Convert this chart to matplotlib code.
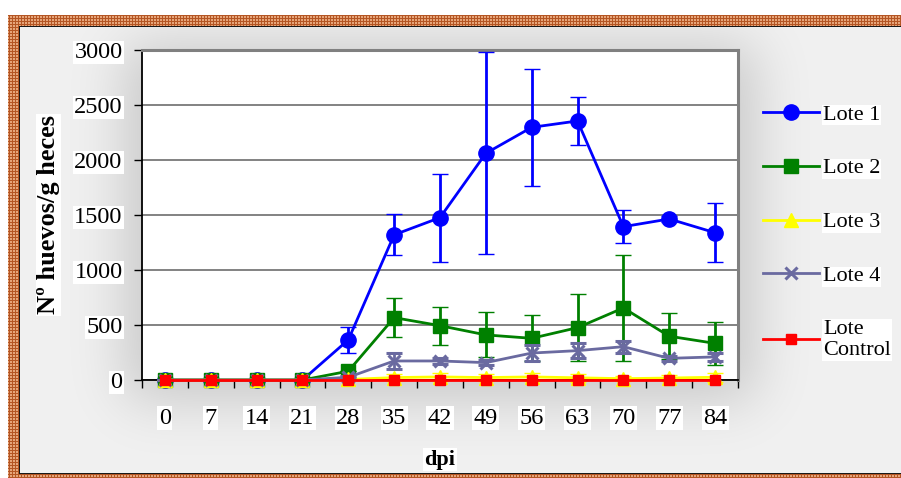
import numpy as np
import matplotlib
matplotlib.use("Agg")
import matplotlib.pyplot as plt

# ---- data -------------------------------------------------------------
dpi_days = ["0", "7", "14", "21", "28", "35", "42", "49", "56", "63", "70", "77", "84"]

lote1 = [0, 0, 0, 0, 365, 1320, 1476, 2061, 2297, 2355, 1394, 1464, 1339]
lote1_err = [0, 0, 0, 0, 120, 185, 400, 920, 533, 215, 150, 25, 268]

lote2 = [0, 0, 0, 0, 80, 567, 494, 410, 379, 476, 655, 398, 333]
lote2_err = [0, 0, 0, 0, 0, 175, 172, 205, 210, 305, 480, 210, 198]

lote3 = [0, 0, 0, 0, 5, 22, 28, 22, 28, 20, 12, 18, 25]
lote3_err = [0, 0, 0, 0, 5, 35, 35, 30, 40, 35, 25, 30, 40]

lote4 = [0, 0, 0, 0, 25, 173, 173, 158, 245, 267, 303, 197, 210]
lote4_err = [0, 0, 0, 0, 10, 70, 30, 20, 70, 65, 55, 25, 40]

lote_ctrl = [0, 0, 0, 0, 0, 0, 0, 0, 0, 0, 0, 0, 0]

series_names = ["Lote 1", "Lote 2", "Lote 3", "Lote 4", "Lote\nControl"]
y_ticks = [0, 500, 1000, 1500, 2000, 2500, 3000]

# ---- figure -----------------------------------------------------------
W, H, DPI = 901, 478, 100
fig = plt.figure(figsize=(W / DPI, H / DPI), dpi=DPI)
serif = ["Liberation Serif", "DejaVu Serif"]
plt.rcParams["font.family"] = serif


def gauss_blur(a, sigma):
    r = int(3 * sigma)
    k = np.exp(-0.5 * (np.arange(-r, r + 1) / sigma) ** 2)
    k /= k.sum()
    a = np.apply_along_axis(lambda v: np.convolve(np.pad(v, r, mode="edge"), k, mode="valid"), 0, a)
    a = np.apply_along_axis(lambda v: np.convolve(np.pad(v, r, mode="edge"), k, mode="valid"), 1, a)
    return a


# background: patterned frame and grey panel with soft shading
img = np.ones((H, W, 3))
yy, xx = np.mgrid[0:H, 0:W]
frame = (yy >= 15) & (xx >= 8)
base = np.array([230, 165, 122]) / 255
dark = np.array([180, 85, 35]) / 255
lines = ((xx % 3) == 0) | ((yy % 3) == 0)
img[frame & ~lines] = base
img[frame & lines] = dark

mask = np.zeros((H, W))
mask[45:400, 125:755] = 1.0
shade = gauss_blur(mask, 28)
panel = (yy >= 27) & (yy < 473) & (xx >= 20)
gray = 0.945 - 0.16 * shade
for c in range(3):
    ch = img[:, :, c]
    ch[panel] = gray[panel]
# black outline of the panel
img[26, 19:, :] = 0.1
img[473, 19:, :] = 0.1
img[26:474, 19, :] = 0.1

bg = fig.add_axes([0, 0, 1, 1], zorder=0)
bg.imshow(img, aspect="auto", interpolation="nearest", extent=(0, W, H, 0))
bg.set_axis_off()

# ---- main plot --------------------------------------------------------
L, R, T, B = 142, 738, 50, 380
ax = fig.add_axes([L / W, 1 - B / H, (R - L) / W, (B - T) / H], zorder=1)
ax.set_facecolor("white")
x = np.arange(len(dpi_days))

styles = [
    dict(y=lote1, e=lote1_err, color="#0000ff", marker="o", ms=11, mew=1),
    dict(y=lote2, e=lote2_err, color="#008000", marker="s", ms=10, mew=1),
    dict(y=lote3, e=lote3_err, color="#ffff00", marker="^", ms=10, mew=1),
    dict(y=lote4, e=lote4_err, color="#6a6aa0", marker="x", ms=9, mew=2.2),
    dict(y=lote_ctrl, e=None, color="#ff0000", marker="s", ms=6.5, mew=1),
]

handles = []
for i, s in enumerate(styles):
    cont = ax.errorbar(x, s["y"], yerr=s["e"], color=s["color"], ecolor=s["color"],
                       lw=2, elinewidth=2, capsize=5.5, capthick=2,
                       marker=s["marker"], ms=s["ms"], mew=s["mew"],
                       mfc=s["color"], mec=s["color"], zorder=3 + i, clip_on=False)
    handles.append(cont.lines[0])

ax.set_xlim(-0.5, len(dpi_days) - 0.5)
ax.set_ylim(0, 3000)
ax.set_yticks(y_ticks)
ax.set_yticklabels([str(v) for v in y_ticks])
ax.yaxis.grid(True, color="#606060", lw=1.1)
ax.set_axisbelow(True)

# category boundaries carry the tick marks; labels sit at the centres
ax.set_xticks(np.arange(-0.5, len(dpi_days)))
ax.set_xticklabels([])
ax.set_xticks(x, minor=True)
ax.set_xticklabels(dpi_days, minor=True)
ax.tick_params(axis="x", which="major", direction="out", length=5.5, width=1, color="black")
ax.tick_params(axis="x", which="minor", length=0, pad=20, labelsize=17.5)
ax.tick_params(axis="y", direction="out", length=6, width=1, pad=8, labelsize=17.5)

for lbl in ax.get_yticklabels() + ax.get_xticklabels(minor=True):
    lbl.set_bbox(dict(facecolor="white", edgecolor="none", pad=1.0))

for side in ("left", "bottom"):
    ax.spines[side].set_color("black")
    ax.spines[side].set_linewidth(1.3)
for side in ("top", "right"):
    ax.spines[side].set_color("#808080")
    ax.spines[side].set_linewidth(2.2)

ax.set_ylabel("Nº huevos/g heces", fontsize=19, fontweight="bold", labelpad=10,
              bbox=dict(facecolor="white", edgecolor="none", pad=1.0))
ax.set_xlabel("dpi", fontsize=16, fontweight="bold", labelpad=15,
              bbox=dict(facecolor="white", edgecolor="none", pad=1.0))

leg = fig.legend(handles, series_names, loc="upper left",
                 bbox_to_anchor=(763 / W, 1 - 104 / H), frameon=False,
                 fontsize=16, handlelength=2.5, handletextpad=0.2,
                 labelspacing=1.5, numpoints=1, borderpad=0, borderaxespad=0)
for t in leg.get_texts():
    t.set_bbox(dict(facecolor="white", edgecolor="none", pad=0.5))

fig.savefig("out.png", dpi=DPI)
